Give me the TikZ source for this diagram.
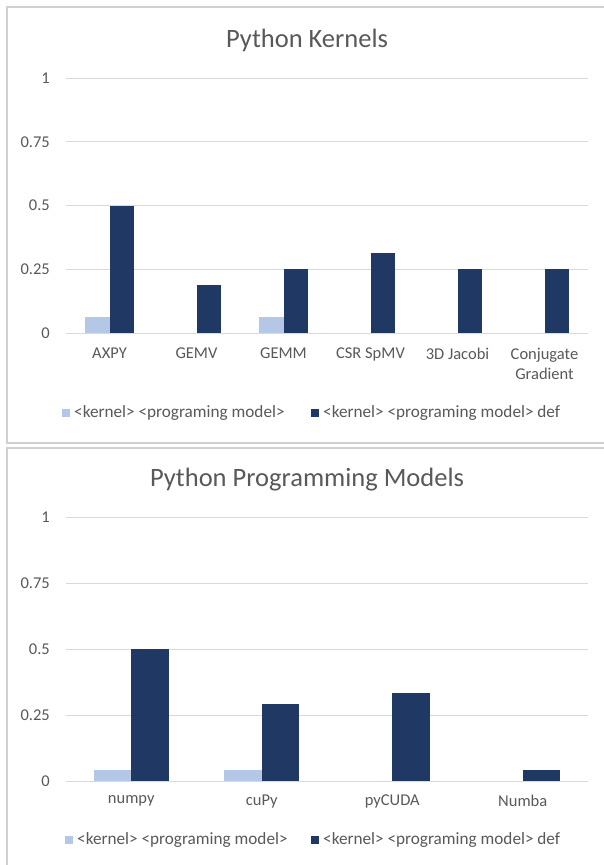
\documentclass[tikz,border=0pt]{standalone}
\usepackage{fontspec}
\setmainfont{Carlito}
\definecolor{lightbar}{HTML}{B4C7E7}
\definecolor{darkbar}{HTML}{203864}
\definecolor{gridc}{HTML}{D9D9D9}
\definecolor{txt}{HTML}{595959}
\definecolor{frame}{HTML}{D0D0D0}
\tikzset{
  panel/.style={draw=frame,line width=1.3pt},
  gridline/.style={draw=gridc,line width=0.9pt},
  ytick/.style={anchor=east,inner sep=0pt,font=\fontsize{16.5}{18}\selectfont,text=txt},
  cat/.style={anchor=north,inner sep=0pt,align=center,font=\fontsize{16.5}{20}\selectfont,text=txt},
  charttitle/.style={inner sep=0pt,font=\fontsize{26.5}{30}\selectfont,text=txt},
  legtext/.style={anchor=west,inner sep=0pt,font=\fontsize{17.2}{19}\selectfont,text=txt},
  lbar/.style={fill=lightbar},
  dbar/.style={fill=darkbar},
}
\begin{document}
\begin{tikzpicture}[x=1pt,y=-1pt]
\useasboundingbox (0,0) rectangle (604,865);
\fill[white] (0,0) rectangle (604,865);
% panels
\draw[panel] (606,7) -- (7,7) -- (7,443) -- (606,443);
\draw[panel] (606,448) -- (7,448) -- (7,867);

% ---------- top chart ----------
\node[charttitle] (t1) at (307,40) {Python Kernels};
\foreach \v/\lab [count=\i] in {0/0,0.25/0.25,0.5/0.5,0.75/0.75,1/1}{
  \draw[gridline] (66,{333-255*\v}) -- (588,{333-255*\v});
  \node[ytick] (ta\i) at (50,{333-255*\v}) {\lab};
}
\foreach \lv/\dv [count=\i] in {0.0625/0.5,0/0.1875,0.0625/0.25,0/0.3125,0/0.25,0/0.25}{
  \pgfmathsetmacro{\c}{66+87*(\i-0.5)}
  \ifdim \lv pt>0pt \fill[lbar] ({\c-24.9},333) rectangle (\c,{333-255*\lv}); \fi
  \fill[dbar] (\c,333) rectangle ({\c+24.9},{333-255*\dv});
}
\node[cat] (tc1) at (109.5,348) {AXPY};
\node[cat] (tc2) at (196.5,348) {GEMV};
\node[cat] (tc3) at (283.5,348) {GEMM};
\node[cat] (tc4) at (370.5,348) {CSR SpMV};
\node[cat] (tc5) at (457.5,348) {3D Jacobi};
\node[cat] (tc6) at (544.5,348) {Conjugate\\Gradient};
\fill[lightbar] (62,409) rectangle (70,417);
\node[legtext] (tl1) at (74,413) {<kernel> <programing model>};
\fill[darkbar] (311,409) rectangle (319,417);
\node[legtext] (tl2) at (323,413) {<kernel> <programing model> def};

% ---------- bottom chart ----------
\node[charttitle] (b1) at (307,480) {Python Programming Models};
\foreach \v/\lab [count=\i] in {0/0,0.25/0.25,0.5/0.5,0.75/0.75,1/1}{
  \draw[gridline] (66,{781-264*\v}) -- (588,{781-264*\v});
  \node[ytick] (ba\i) at (50,{781-264*\v}) {\lab};
}
\foreach \lv/\dv [count=\i] in {0.0417/0.5,0.0417/0.2917,0/0.3333,0/0.0417}{
  \pgfmathsetmacro{\c}{66+130.5*(\i-0.5)}
  \ifdim \lv pt>0pt \fill[lbar] ({\c-37.3},781) rectangle (\c,{781-264*\lv}); \fi
  \fill[dbar] (\c,781) rectangle ({\c+37.3},{781-264*\dv});
}
\node[cat] (bc1) at (131.25,795) {numpy};
\node[cat] (bc2) at (261.75,795) {cuPy};
\node[cat] (bc3) at (392.25,795) {pyCUDA};
\node[cat] (bc4) at (522.75,795) {Numba};
\fill[lightbar] (65,836) rectangle (73,844);
\node[legtext] (bl1) at (77,840) {<kernel> <programing model>};
\fill[darkbar] (311,836) rectangle (319,844);
\node[legtext] (bl2) at (323,840) {<kernel> <programing model> def};
\end{tikzpicture}
\end{document}
